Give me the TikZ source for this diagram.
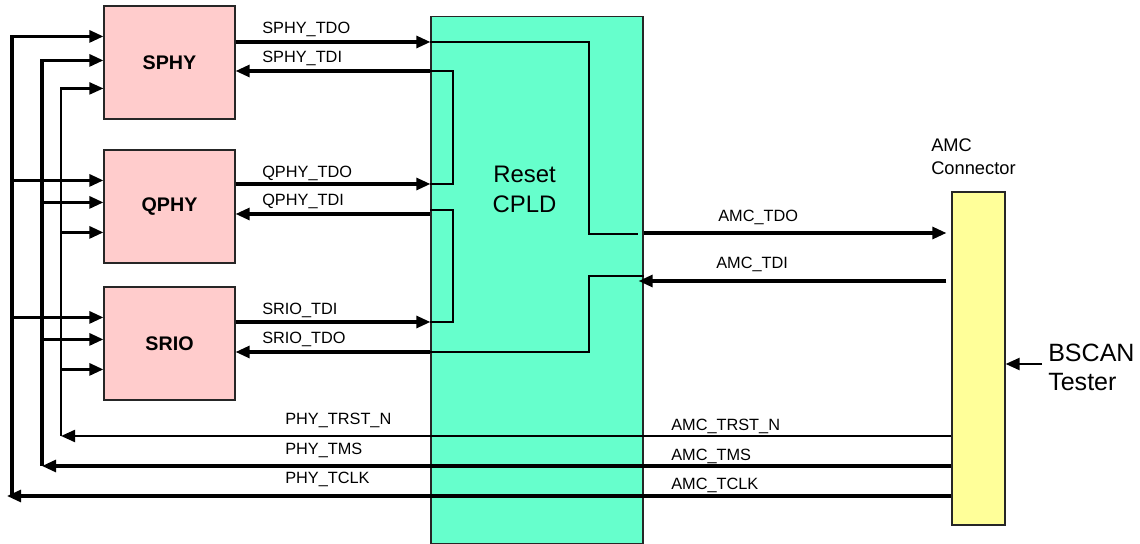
\documentclass[tikz,border=0pt]{standalone}
\usepackage{fontspec}
\setmainfont{Liberation Sans}
\usepackage{tikz}
\usetikzlibrary{arrows.meta,calc}

\definecolor{rosa}{HTML}{FFCCCC}
\definecolor{tuerkis}{HTML}{66FFCC}
\definecolor{hellgelb}{HTML}{FFFF99}

\begin{document}
\begin{tikzpicture}[x=0.025cm, y=-0.025cm,
        baustein/.style={draw=black!85, line width=0.8pt, fill=rosa, minimum width=3.275cm,
            minimum height=2.825cm, inner sep=0pt, font=\fontsize{14}{16}\selectfont\bfseries},
        sig/.style={line width=2.2pt, -{Triangle[length=10pt,width=8.5pt]}},
        duenn/.style={line width=0.75pt},
        lbl/.style={anchor=base west, inner sep=0pt, font=\fontsize{11.6}{13}\selectfont}]

        \useasboundingbox (0,0) rectangle (1140,544);

        % Bausteine
        \node[baustein] (sphy) at (169.5,62.5) {SPHY};
        \node[baustein] (qphy) at (169.5,206.5) {QPHY};
        \node[baustein] (srio) at (169.5,343.5) {SRIO};
        \node[draw=black!85, line width=0.8pt, fill=tuerkis, minimum width=5.3cm,
            minimum height=13.15cm] (cpld) at (537,280) {};
        \node[draw=black!85, line width=0.8pt, fill=hellgelb, minimum width=1.325cm,
            minimum height=8.325cm] (amc) at (978.5,358.5) {};

        % Verbindungen im CPLD
        \draw[duenn] (cpld.west |- 0,42) -| (589,234) -- (638,234);
        \draw[duenn] (cpld.west |- 0,71) -| (453,184) -- (cpld.west |- 0,184);
        \draw[duenn] (cpld.west |- 0,210) -| (453,322) -- (cpld.west |- 0,322);
        \draw[duenn] (cpld.west |- 0,352) -| (589,276) -- (cpld.east |- 0,276);

        % TDO/TDI Kette
        \draw[sig] (sphy.east |- 0,42) -- (cpld.west |- 0,42);
        \draw[sig] (cpld.west |- 0,71) -- (sphy.east |- 0,71);
        \draw[sig] (qphy.east |- 0,184) -- (cpld.west |- 0,184);
        \draw[sig] (cpld.west |- 0,214) -- (qphy.east |- 0,214);
        \draw[sig] (srio.east |- 0,322) -- (cpld.west |- 0,322);
        \draw[sig] (cpld.west |- 0,352) -- (srio.east |- 0,352);
        \draw[sig] (cpld.east |- 0,233) -- ($(amc.west |- 0,233)+(-5,0)$);
        \draw[sig] ($(amc.west |- 0,281)+(-5,0)$) -- ($(cpld.east |- 0,281)+(-5,0)$);

        % TRST, TMS, TCLK
        \draw[sig, line width=1.7pt] (amc.west |- 0,436) -- (61,436);
        \draw[sig] (amc.west |- 0,466) -- (42,466);
        \draw[sig] (amc.west |- 0,496) -- (7,496);
        \draw[sig] (12,496) |- ($(sphy.north west)+(0,31)$);
        \draw[sig] (42,466) |- ($(sphy.north west)+(0,55)$);
        \draw[sig, line width=1.7pt] (61,436) |- ($(sphy.north west)+(0,83)$);
        \foreach \b in {qphy,srio}{
            \draw[sig] ($(\b.north west)+(-92,31)$) -- ++(92,0);
            \draw[sig] ($(\b.north west)+(-62,53)$) -- ++(62,0);
            \draw[sig] ($(\b.north west)+(-43,83)$) -- ++(43,0);
        }

        % Tester
        \draw[sig, line width=1.8pt] (1042,364) -- (amc.east |- 0,364);

        % Beschriftungen
        \node[lbl] (tSphyTdo) at (262,34) {SPHY\_TDO};
        \node[lbl] (tSphyTdi) at (262,63) {SPHY\_TDI};
        \node[lbl] (tQphyTdo) at (262,178) {QPHY\_TDO};
        \node[lbl] (tQphyTdi) at (262,206) {QPHY\_TDI};
        \node[lbl] (tSrioTdi) at (262,315) {SRIO\_TDI};
        \node[lbl] (tSrioTdo) at (262,344) {SRIO\_TDO};
        \node[lbl] (tTrst) at (285,425) {PHY\_TRST\_N};
        \node[lbl] (tTms) at (285,455) {PHY\_TMS};
        \node[lbl] (tTclk) at (285,484) {PHY\_TCLK};
        \node[lbl] (tAmcTdo) at (718,222) {AMC\_TDO};
        \node[lbl] (tAmcTdi) at (716,269) {AMC\_TDI};
        \node[lbl] (tAmcTrst) at (671,431) {AMC\_TRST\_N};
        \node[lbl] (tAmcTms) at (671,460) {AMC\_TMS};
        \node[lbl] (tAmcTclk) at (671,489) {AMC\_TCLK};
        \node[anchor=base, inner sep=0pt, font=\fontsize{17}{20}\selectfont] (tReset) at (524.5,183) {Reset};
        \node[anchor=base, inner sep=0pt, font=\fontsize{17}{20}\selectfont] (tCpld) at (524.5,213) {CPLD};
        \node[lbl, font=\fontsize{13}{15}\selectfont] (tAmc) at (931,152) {AMC};
        \node[lbl, font=\fontsize{13}{15}\selectfont] (tConn) at (931,175) {Connector};
        \node[lbl, font=\fontsize{17.8}{21}\selectfont] (tBscan) at (1048,362) {BSCAN};
        \node[lbl, font=\fontsize{17.8}{21}\selectfont] (tTester) at (1048,391) {Tester};
    \end{tikzpicture}
\end{document}
